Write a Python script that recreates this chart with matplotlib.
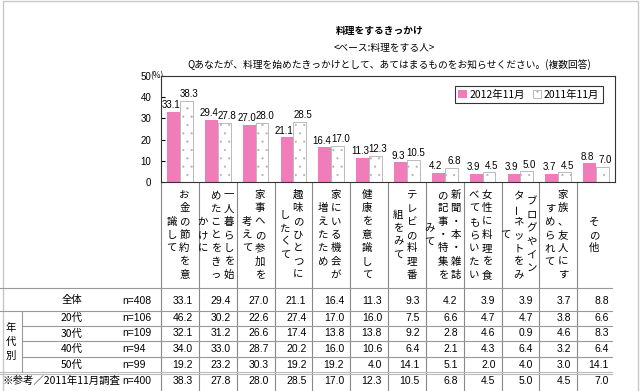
import numpy as np
import matplotlib
matplotlib.use("Agg")
import matplotlib.pyplot as plt
from matplotlib.patches import Rectangle

plt.rcParams['font.family'] = ['Noto Sans CJK JP', 'DejaVu Sans']
plt.rcParams['hatch.linewidth'] = 0.3
NUM_FONT = ['Liberation Sans Narrow', 'Liberation Sans', 'DejaVu Sans']

# category labels, one list per label, split into vertical columns (right to left)
cat_cols = [
    ["お金の節約を意", "識して"],
    ["一人暮らしを始", "めたことをきっ", "かけに"],
    ["家事への参加を", "考えて"],
    ["趣味のひとつに", "したくて"],
    ["家にいる機会が", "増えたため"],
    ["健康を意識して"],
    ["テレビの料理番", "組をみて"],
    ["新聞・本・雑誌", "の記事・特集を", "みて"],
    ["女性に料理を食", "べてもらいたい"],
    ["ブログやイン", "ターネットをみ", "て"],
    ["家族、友人にす", "すめられて"],
    ["その他"],
]

v2012 = [33.1, 29.4, 27.0, 21.1, 16.4, 11.3, 9.3, 4.2, 3.9, 3.9, 3.7, 8.8]
v2011 = [38.3, 27.8, 28.0, 28.5, 17.0, 12.3, 10.5, 6.8, 4.5, 5.0, 4.5, 7.0]

row_labels = ["全体", "20代", "30代", "40代", "50代", "※参考／2011年11月調査"]
row_n = ["n=408", "n=106", "n=109", "n=94", "n=99", "n=400"]
tbl_all = [33.1, 29.4, 27.0, 21.1, 16.4, 11.3, 9.3, 4.2, 3.9, 3.9, 3.7, 8.8]
tbl_20s = [46.2, 30.2, 22.6, 27.4, 17.0, 16.0, 7.5, 6.6, 4.7, 4.7, 3.8, 6.6]
tbl_30s = [32.1, 31.2, 26.6, 17.4, 13.8, 13.8, 9.2, 2.8, 4.6, 0.9, 4.6, 8.3]
tbl_40s = [34.0, 33.0, 28.7, 20.2, 16.0, 10.6, 6.4, 2.1, 4.3, 6.4, 3.2, 6.4]
tbl_50s = [19.2, 23.2, 30.3, 19.2, 19.2, 4.0, 14.1, 5.1, 2.0, 4.0, 3.0, 14.1]
tbl_2011 = [38.3, 27.8, 28.0, 28.5, 17.0, 12.3, 10.5, 6.8, 4.5, 5.0, 4.5, 7.0]
tbl_rows = [tbl_all, tbl_20s, tbl_30s, tbl_40s, tbl_50s, tbl_2011]

PINK = '#F07DB9'
W, H = 640, 391
fig = plt.figure(figsize=(6.4, 3.91), dpi=100)
fig.patch.set_facecolor('white')

# overlay in pixel coords for titles and the table
ov = fig.add_axes([0, 0, 1, 1])
ov.set_xlim(0, W)
ov.set_ylim(H, 0)
ov.axis('off')

# ---- bar chart
left, right, top, bottom = 161, 615, 76, 182
ax = fig.add_axes([left / W, 1 - bottom / H, (right - left) / W, (bottom - top) / H])
x = np.arange(len(v2012))
bw = 0.34
ax.bar(x - bw / 2, v2012, bw, color=PINK, edgecolor='none', label='2012年11月')
ax.bar(x + bw / 2, v2011, bw, color='white', edgecolor='#B0B0B0', hatch='..',
       linewidth=0.6, label='2011年11月')
for i in range(len(x)):
    ax.text(i - bw / 2 - 0.07, v2012[i] + 0.8, f"{v2012[i]:.1f}", ha='center', va='bottom',
            fontsize=7, family=NUM_FONT)
    ax.text(i + bw / 2 + 0.07, v2011[i] + 0.8, f"{v2011[i]:.1f}", ha='center', va='bottom',
            fontsize=7, family=NUM_FONT)
ax.set_xlim(-0.5, len(x) - 0.5)
ax.set_ylim(0, 50)
ax.set_xticks([])
ax.set_yticks([0, 10, 20, 30, 40, 50])
ax.set_yticklabels(['0', '10', '20', '30', '40', '50'], family=NUM_FONT)
ax.tick_params(axis='y', direction='in', length=3, labelsize=7, pad=7)
for sp in ax.spines.values():
    sp.set_color('#333333')
    sp.set_linewidth(0.8)
leg = ax.legend(loc='upper right', bbox_to_anchor=(603 / W, 1 - 86 / H),
                bbox_transform=fig.transFigure, ncol=2, fontsize=7.5, frameon=True,
                fancybox=False, edgecolor='black', handlelength=0.8, handleheight=0.8,
                handletextpad=0.3, columnspacing=0.7, borderpad=0.35, borderaxespad=0)
leg.get_frame().set_linewidth(0.8)
ov.text(150, top, "(%)", ha='left', va='center', fontsize=6)

# ---- titles
ov.text(380, 31, "料理をするきっかけ", ha='center', va='center', fontsize=7, fontweight='bold')
ov.text(384, 48, "<ベース:料理をする人>", ha='center', va='center', fontsize=7)
ov.text(389, 65, "Qあなたが、料理を始めたきっかけとして、あてはまるものをお知らせください。(複数回答)",
        ha='center', va='center', fontsize=7)

# ---- table
ncol = len(v2012)
xe = left + (right - left) / ncol * np.arange(ncol + 1)
grid_c = '#999999'
for xv in xe[:-1]:
    ov.plot([xv, xv], [bottom, H], color='#888888', lw=0.8)
ov.plot([0, 612], [288, 288], color=grid_c, lw=0.8)
ov.plot([0, 612], [310.7, 310.7], color=grid_c, lw=0.8)
for yy in [325.5, 341.3, 357.3]:
    ov.plot([22, 612], [yy, yy], color=grid_c, lw=0.8)
ov.plot([0, 612], [371.8, 371.8], color='#bbbbbb', lw=0.8)
ov.plot([0, 612], [373.6, 373.6], color='#bbbbbb', lw=0.8)
ov.plot([22, 22], [310.7, 372], color=grid_c, lw=0.8)

# vertical category labels
step_y, step_x, yc = 13.3, 13.0, 235
for c, cols in enumerate(cat_cols):
    cx = (xe[c] + xe[c + 1]) / 2 - 2
    k = len(cols)
    for j, col in enumerate(cols):
        tx = cx + ((k - 1) / 2 - j) * step_x
        n = len(col)
        for i, ch in enumerate(col):
            ty = yc + (i - (n - 1) / 2) * step_y
            rot = 90 if ch == 'ー' else 0
            ov.text(tx, ty, ch, ha='center', va='center', fontsize=7.5, rotation=rot)

# row labels and values
row_y = [300.5, 318.2, 333.5, 349.3, 365.3, 380.5]
for r, vals in enumerate(tbl_rows):
    if r < 5:
        ov.text(72, row_y[r], row_labels[r], ha='center', va='center', fontsize=7.5)
    else:
        ov.text(3, row_y[r], row_labels[r], ha='left', va='center', fontsize=7.5)
    ov.text(122, row_y[r], row_n[r], ha='left', va='center', fontsize=7.5, family=NUM_FONT)
    for c, v in enumerate(vals):
        ov.text(xe[c + 1] - 6, row_y[r], f"{v:.1f}", ha='right', va='center',
                fontsize=7.5, family=NUM_FONT)
for i, ch in enumerate("年代別"):
    ov.text(11, 328 + i * 13.8, ch, ha='center', va='center', fontsize=7.5)

# light frame around the whole picture
ov.add_patch(Rectangle((2.5, 0.5), 635, 392, fill=False, ec='#c8c8c8', lw=1))

fig.savefig('out.png', dpi=100)
